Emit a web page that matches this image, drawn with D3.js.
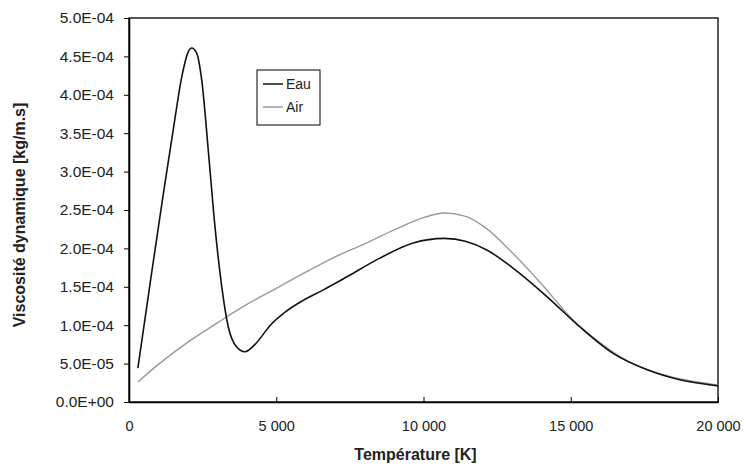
<!DOCTYPE html>
<html><head><meta charset="utf-8">
<script src="https://cdn.jsdelivr.net/npm/d3@7"></script>
<style>body{margin:0;background:#fff}svg{display:block}text{font-family:"Liberation Sans",Arial,sans-serif}</style>
</head><body><svg id="c" width="746" height="468"></svg>
<script>
const xTicks = [0, 5000, 10000, 15000, 20000];
const yTicks = [0, 5e-5, 1e-4, 1.5e-4, 2e-4, 2.5e-4, 3e-4, 3.5e-4, 4e-4, 4.5e-4, 5e-4];
const seriesNames = ["Eau", "Air"];
const eauT = [300, 700, 1150, 1500, 1800, 2000, 2130, 2300, 2470, 2700, 2920, 3150, 3370, 3650, 3940, 4280, 4800, 5300, 5900, 6600, 7400, 8500, 9650, 10700, 11450, 12150, 13050, 14200, 15300, 16450, 17600, 18700, 20000];
const eauV = [4.4e-5, 1.50e-4, 2.67e-4, 3.54e-4, 4.25e-4, 4.55e-4, 4.61e-4, 4.54e-4, 4.19e-4, 3.24e-4, 2.28e-4, 1.50e-4, 9.8e-5, 7.2e-5, 6.55e-5, 7.5e-5, 1.0e-4, 1.17e-4, 1.32e-4, 1.46e-4, 1.63e-4, 1.87e-4, 2.07e-4, 2.13e-4, 2.09e-4, 1.98e-4, 1.74e-4, 1.37e-4, 9.8e-5, 6.3e-5, 4.2e-5, 2.9e-5, 2.1e-5];
const airT = [300, 1000, 2000, 3000, 4000, 5000, 6000, 7000, 8000, 9000, 10000, 10700, 11400, 12100, 13000, 14000, 15000, 16000, 17000, 18000, 19000, 20000];
const airV = [2.6e-5, 4.9e-5, 7.8e-5, 1.03e-4, 1.27e-4, 1.48e-4, 1.69e-4, 1.89e-4, 2.06e-4, 2.24e-4, 2.40e-4, 2.46e-4, 2.42e-4, 2.27e-4, 1.95e-4, 1.54e-4, 1.10e-4, 7.7e-5, 5.2e-5, 3.7e-5, 2.8e-5, 2.2e-5];

const svg = d3.select("#c");
const L = 129, R = 718, T = 18, B = 402;
const x = d3.scaleLinear().domain([0, 20000]).range([L, R]);
const y = d3.scaleLinear().domain([0, 5e-4]).range([B, T]);

const loc = d3.formatLocale({decimal: ".", thousands: " ", grouping: [3], currency: ["", ""]});
const fx = loc.format(",d");
function fy(d) {
  const s = d.toExponential(1).toUpperCase();
  const m = s.match(/^(.*)E([+-])(\d+)$/);
  return m[1] + "E" + m[2] + m[3].padStart(2, "0");
}

svg.append("rect").attr("x", L).attr("y", T).attr("width", R - L).attr("height", B - T)
  .attr("fill", "none").attr("stroke", "#000").attr("stroke-width", 1.3);

const xa = svg.append("g").attr("transform", `translate(0,${B})`)
  .call(d3.axisBottom(x).tickValues(xTicks).tickFormat(fx).tickSizeInner(5).tickSizeOuter(0).tickPadding(14));
const ya = svg.append("g").attr("transform", `translate(${L},0)`)
  .call(d3.axisLeft(y).tickValues(yTicks).tickFormat(fy).tickSizeInner(5).tickSizeOuter(0).tickPadding(10));
[xa, ya].forEach(g => {
  g.select(".domain").attr("stroke", "#000").attr("stroke-width", 1.6);
  g.selectAll(".tick line").attr("stroke", "#000").attr("stroke-width", 1);
  g.selectAll("text").attr("fill", "#222").style("font-family", '"Liberation Sans",Arial,sans-serif');
});
xa.selectAll("text").attr("font-size", 14.5);
ya.selectAll("text").attr("font-size", 15.5);
xa.selectAll(".tick line").attr("y2", -5);

const line = d3.line().x(d => x(d[0])).y(d => y(d[1])).curve(d3.curveMonotoneX);
const eau = eauT.map((t, i) => [t, eauV[i]]);
const air = airT.map((t, i) => [t, airV[i]]);
svg.append("path").datum(air).attr("d", line).attr("fill", "none").attr("stroke", "#9a9a9a").attr("stroke-width", 1.4);
svg.append("path").datum(eau).attr("d", line).attr("fill", "none").attr("stroke", "#111").attr("stroke-width", 1.6);

svg.append("text").attr("x", (L + R) / 2 - 8).attr("y", 460).attr("text-anchor", "middle")
  .attr("font-size", 16).attr("font-weight", "bold").attr("fill", "#222").text("Température [K]");
svg.append("text").attr("transform", "translate(25,215) rotate(-90)").attr("text-anchor", "middle")
  .attr("font-size", 16).attr("font-weight", "bold").attr("fill", "#222").text("Viscosité dynamique [kg/m.s]");

const lg = svg.append("g");
lg.append("rect").attr("x", 257).attr("y", 70).attr("width", 63).attr("height", 55)
  .attr("fill", "#fff").attr("stroke", "#000").attr("stroke-width", 1);
const colors = ["#111", "#9a9a9a"];
seriesNames.forEach((n, i) => {
  const yy = 84 + i * 23;
  lg.append("line").attr("x1", 263).attr("x2", 283).attr("y1", yy).attr("y2", yy)
    .attr("stroke", colors[i]).attr("stroke-width", 1.5);
  lg.append("text").attr("x", 286).attr("y", yy + 5).attr("font-size", 14).attr("fill", "#222").text(n);
});
</script></body></html>
